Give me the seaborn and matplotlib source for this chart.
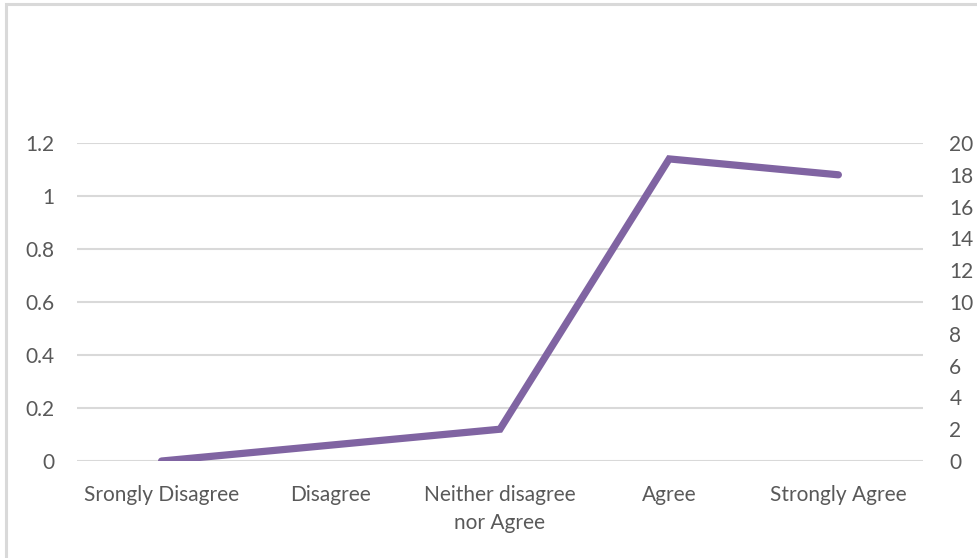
import matplotlib
matplotlib.use("Agg")
import matplotlib.pyplot as plt
from matplotlib.patches import Rectangle
import seaborn as sns
import pandas as pd

categories = ["Srongly Disagree", "Disagree", "Neither disagree\nnor Agree", "Agree", "Strongly Agree"]
counts = [0, 1, 2, 19, 18]
left_ticks = [0, 0.2, 0.4, 0.6, 0.8, 1, 1.2]
left_tick_labels = ["0", "0.2", "0.4", "0.6", "0.8", "1", "1.2"]
right_ticks = [0, 2, 4, 6, 8, 10, 12, 14, 16, 18, 20]

sns.set_theme(style="white")
plt.rcParams["font.family"] = ["Lato", "DejaVu Sans"]

text_color = "#595959"
grid_color = "#D9D9D9"
line_color = "#8064A2"

df = pd.DataFrame({"pos": range(len(categories)), "count": counts})

fig = plt.figure(figsize=(9.77, 5.58), dpi=100)
ax = fig.add_axes([0.0788, 0.1738, 0.8659, 0.5699])
ax2 = ax.twinx()

# primary (left) axis: empty scale with gridlines
ax.set_ylim(0, 1.2)
ax.set_yticks(left_ticks)
ax.set_yticklabels(left_tick_labels)
ax.yaxis.grid(True, color=grid_color, linewidth=1.5)
ax.set_axisbelow(True)
ax.set_xlim(-0.5, len(categories) - 0.5)
ax.set_xticks(range(len(categories)))
ax.set_xticklabels(categories, linespacing=1.55)

# secondary (right) axis carries the series
sns.lineplot(data=df, x="pos", y="count", ax=ax2, color=line_color,
             linewidth=5.2, solid_capstyle="round", solid_joinstyle="miter")
ax2.set_ylim(0, 20)
ax2.set_yticks(right_ticks)
ax2.set_xlim(-0.5, len(categories) - 0.5)
ax2.set_xlabel("")
ax2.set_ylabel("")

for a in (ax, ax2):
    for s in a.spines.values():
        s.set_visible(False)
    a.tick_params(length=0, labelsize=15, colors=text_color)
ax.tick_params(axis="y", pad=16)
ax.tick_params(axis="x", pad=17)
ax2.tick_params(axis="y", pad=19)

# chart border
fig.patches.append(Rectangle((5.5 / 977, -0.1), 1.2, 1 - 3.5 / 558 + 0.1,
                             transform=fig.transFigure, fill=False,
                             edgecolor=grid_color, linewidth=2.2))

fig.savefig("out.png", dpi=100)
